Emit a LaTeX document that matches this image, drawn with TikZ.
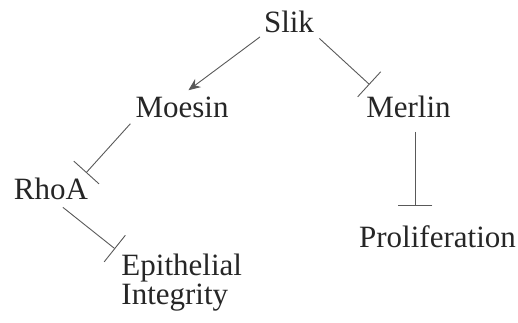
\documentclass[tikz,border=0pt]{standalone}
\usepackage{fontspec}
\setmainfont{Liberation Serif}
\usetikzlibrary{arrows.meta}

\begin{document}
\begin{tikzpicture}[x=1pt,y=-1pt,draw=black!65,line width=0.9pt]
    \tikzstyle{gene}=[inner sep=2pt,text=black!85,font=\fontsize{31}{29}\selectfont]
    \tikzstyle{activates}=[-{Stealth[length=12pt,width=10pt]}]
    \tikzstyle{inhibits}=[-{Bar[width=34pt]}]

    \useasboundingbox (0,0) rectangle (518,323);

    % Draw the gene nodes
    \node[gene,anchor=base] (slik) at (289,33) {Slik};
    \node[gene,anchor=base] (moesin) at (182,118) {Moesin};
    \node[gene,anchor=base] (merlin) at (408.5,118) {Merlin};
    \node[gene,anchor=base] (rhoa) at (51,199) {RhoA};
    \node[gene,anchor=base] (prolif) at (437.5,247) {Proliferation};
    \node[gene,anchor=north west,align=left] (epi) at (119,252) {Epithelial\\Integrity};

    % Draw the activating and inhibiting links
    \draw[activates,shorten <=2pt,shorten >=8pt] (slik.south west) -- (moesin.north);
    \draw[inhibits,shorten <=4pt,shorten >=14pt] (slik.south east) -- (merlin.155);
    \draw[inhibits,shorten <=11pt,shorten >=17pt] (merlin.-63) -- (merlin.-63 |- prolif.north);
    \draw[inhibits,shorten <=4pt,shorten >=3pt] (moesin.south west) -- (rhoa.22);
    \draw[inhibits,shorten <=9pt,shorten >=5pt] (rhoa.-70) -- (epi.north west);
\end{tikzpicture}
\end{document}
